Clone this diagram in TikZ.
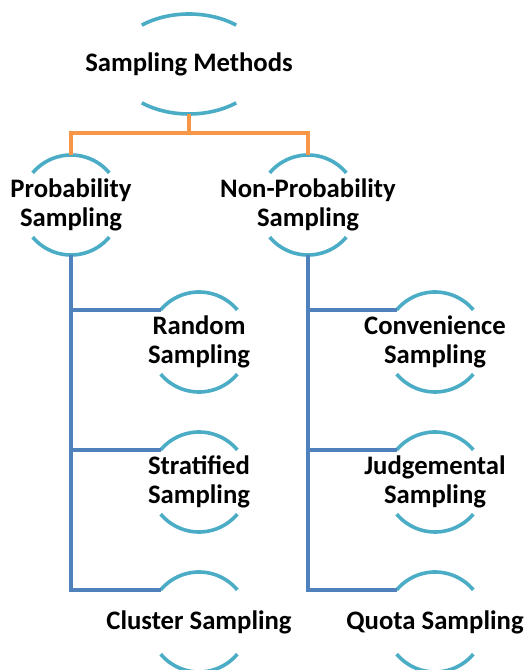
\documentclass[tikz,border=0pt]{standalone}
\usepackage{fontspec}
\setmainfont{Carlito}
\usetikzlibrary{shapes.geometric}
\definecolor{arcblue}{RGB}{75,172,198}
\definecolor{linkblue}{RGB}{79,129,189}
\definecolor{linkorange}{RGB}{247,150,70}

\begin{document}
\begin{tikzpicture}[x=1pt,y=1pt,
  ring/.style={circle,minimum size=100pt,inner sep=0pt,outer sep=0pt},
  txt/.style={font=\bfseries\fontsize{26.7}{29}\selectfont,align=center},
  arcline/.style={arcblue,line width=3.6pt},
  branch/.style={linkblue,line width=3.6pt},
  trunk/.style={linkorange,line width=3.6pt}]
\useasboundingbox (0,0) rectangle (526,670);
% root
\node[ellipse,minimum width=150pt,minimum height=100pt,inner sep=0pt,outer sep=0pt,
      label={[txt]center:Sampling Methods}] (top) at (189,606) {};
\draw[arcline] ([shift={(51:75 and 50)}]top.center) arc[start angle=51,end angle=129,x radius=75,y radius=50];
\draw[arcline] ([shift={(231:75 and 50)}]top.center) arc[start angle=231,end angle=309,x radius=75,y radius=50];
% second level
\node[ring,label={[txt]center:{Probability\\Sampling}}] (prob) at (71,465) {};
\node[ring,label={[txt]center:{Non-Probability\\Sampling}}] (nonprob) at (308,465) {};
% leaves
\node[ring,label={[txt]center:{Random\\Sampling}}] (rand) at (199,328) {};
\node[ring,label={[txt]center:{Stratified\\Sampling}}] (strat) at (199,188) {};
\node[ring,label={[txt]center:{Cluster Sampling}}] (clust) at (199,48) {};
\node[ring,label={[txt]center:{Convenience\\Sampling}}] (conv) at (435,328) {};
\node[ring,label={[txt]center:{Judgemental\\Sampling}}] (judg) at (435,188) {};
\node[ring,label={[txt]center:{Quota Sampling}}] (quota) at (435,48) {};
\foreach \n in {prob,nonprob,rand,strat,clust,conv,judg,quota}{
  \draw[arcline] (\n.40) arc[start angle=40,end angle=140,radius=50];
  \draw[arcline] (\n.220) arc[start angle=220,end angle=320,radius=50];
}
% connectors
\draw[trunk] (top.south) -- ++(0,-19) coordinate (fork);
\draw[trunk] (prob.north) |- (fork) -| (nonprob.north);
\draw[branch] (prob.south) |- (clust.140);
\draw[branch] (prob.south |- rand.140) -- (rand.140);
\draw[branch] (prob.south |- strat.140) -- (strat.140);
\draw[branch] (nonprob.south) |- (quota.140);
\draw[branch] (nonprob.south |- conv.140) -- (conv.140);
\draw[branch] (nonprob.south |- judg.140) -- (judg.140);
\end{tikzpicture}
\end{document}
